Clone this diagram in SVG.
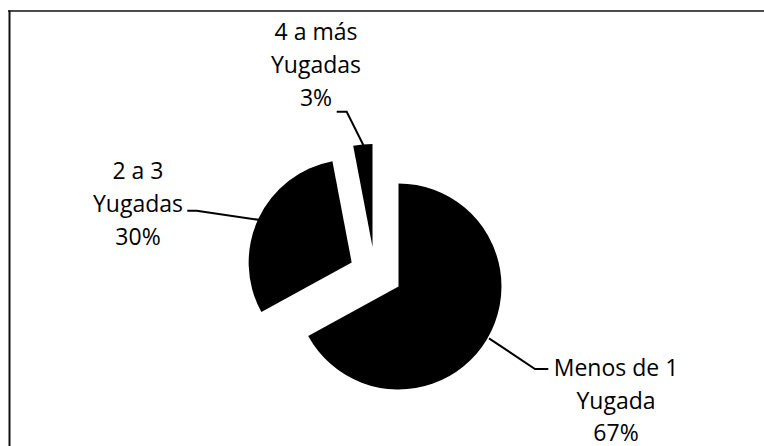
<svg xmlns="http://www.w3.org/2000/svg" width="764" height="446" viewBox="0 0 764 446">
<style>
.bg{fill:#fff}
.frame{stroke:#111;fill:none}
.slice{fill:#000;stroke:none}
.lead{stroke:#000;stroke-width:2;fill:none}
.lbl{font-family:"Open Sans","Noto Sans",sans-serif;font-size:23px;fill:#000;text-anchor:middle}
</style>
<rect class="bg" x="0" y="0" width="764" height="446"/>
<g id="frame">
<line class="frame" x1="8" y1="11" x2="764" y2="11" stroke-width="1.5"/>
<line class="frame" x1="9.5" y1="10.5" x2="9.5" y2="446" stroke-width="2"/>
</g>
<g id="slice-menos">
<path class="slice" d="M398.5,286.5 L398.5,183.5 A103,103 0 1 1 308.2,336.1 Z"/>
</g>
<g id="slice-2a3">
<path class="slice" d="M351.7,262.5 L261.4,312.1 A103,103 0 0 1 332.4,161.3 Z"/>
</g>
<g id="slice-4amas">
<path class="slice" d="M372.5,247 L353.2,145.8 A103,103 0 0 1 372.5,144 Z"/>
</g>
<g id="connectors">
<polyline class="lead" points="336.7,111.7 346.7,111.7 363.3,145"/>
<polyline class="lead" points="187.3,210.7 196.7,210.7 260,220"/>
<polyline class="lead" points="489,338.3 535,369 548.3,369"/>
</g>
<g id="label-4amas">
<text class="lbl" x="316" y="40">4 a más</text>
<text class="lbl" x="316" y="73">Yugadas</text>
<text class="lbl" x="316" y="106">3%</text>
</g>
<g id="label-2a3">
<text class="lbl" x="138" y="178.5">2 a 3</text>
<text class="lbl" x="138" y="211.5">Yugadas</text>
<text class="lbl" x="138" y="244.5">30%</text>
</g>
<g id="label-menos">
<text class="lbl" x="616" y="376">Menos de 1</text>
<text class="lbl" x="616" y="408.5">Yugada</text>
<text class="lbl" x="616" y="441">67%</text>
</g>
</svg>
